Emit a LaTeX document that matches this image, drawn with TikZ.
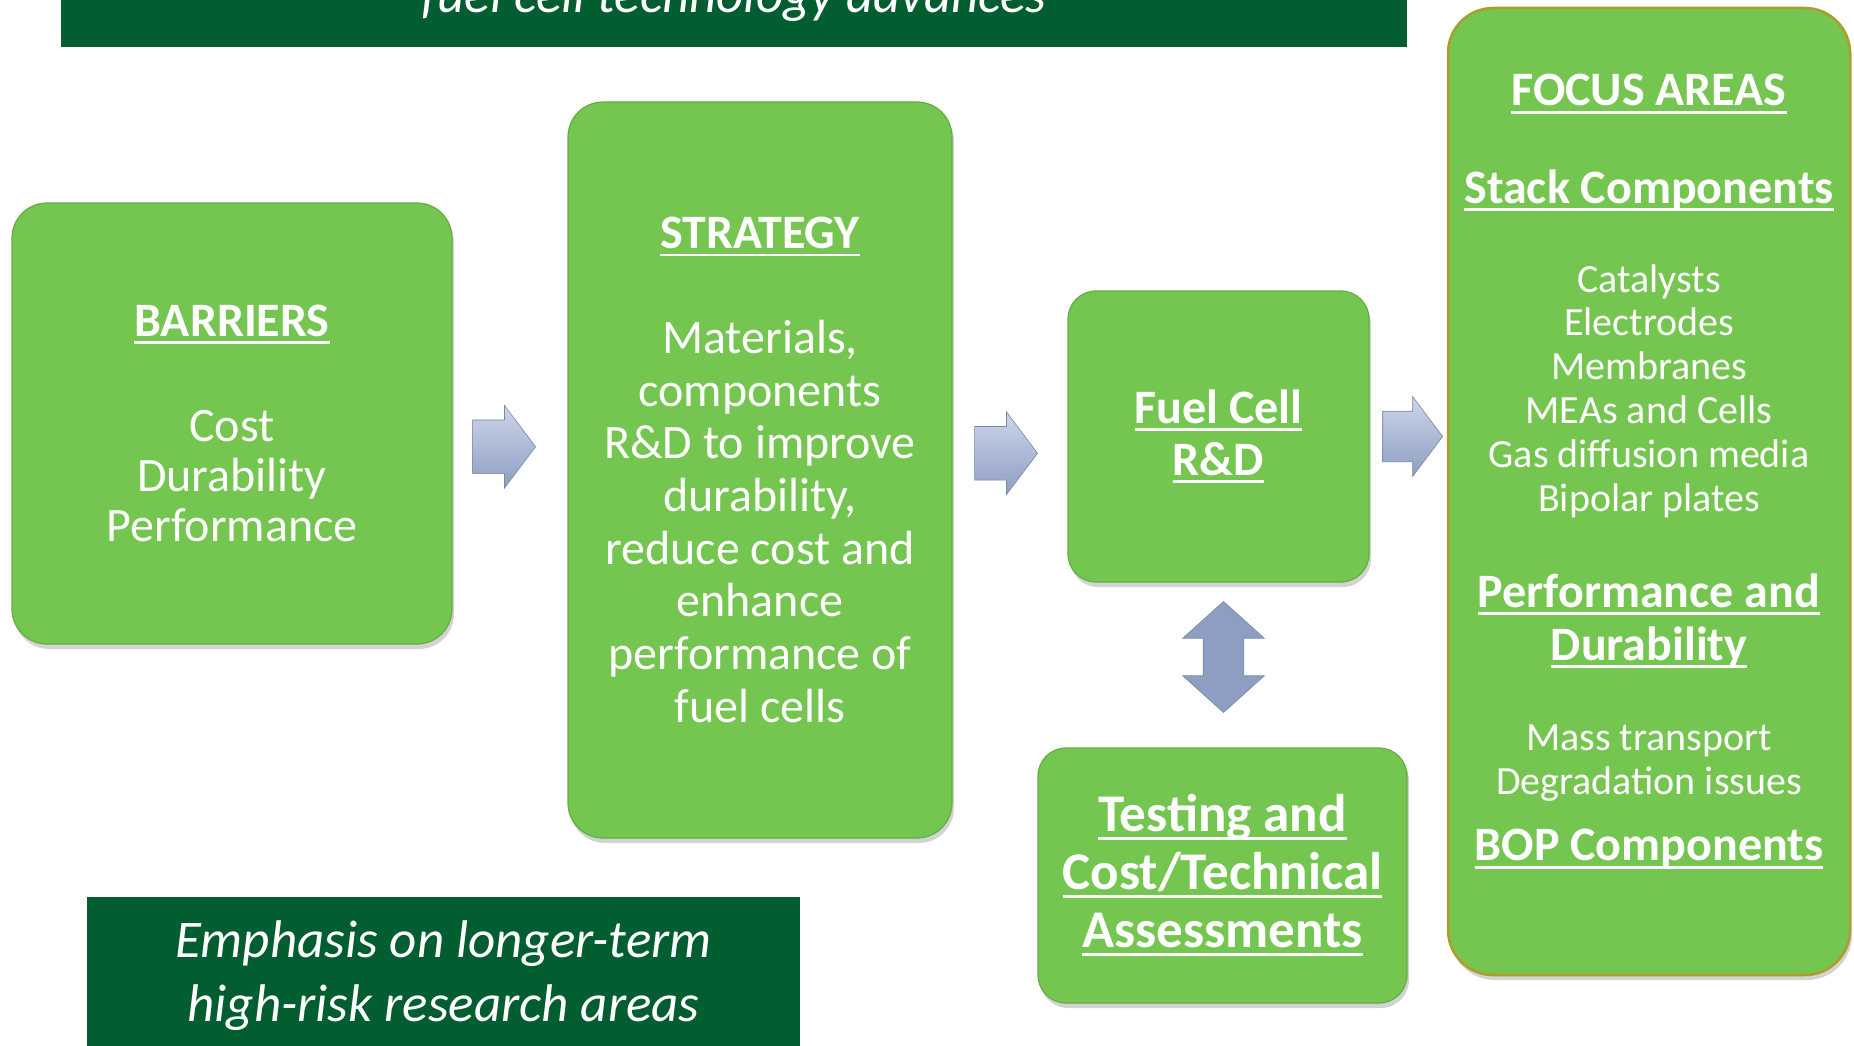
\documentclass[tikz,border=0pt]{standalone}
\usepackage{fontspec}
\setmainfont{Carlito}
\usetikzlibrary{shapes.arrows,shadows,calc}

\definecolor{bannergreen}{HTML}{025E30}
\definecolor{boxgreen}{HTML}{74C650}
\definecolor{boxedge}{HTML}{62AE40}
\definecolor{focusedge}{HTML}{AE9C2C}
\definecolor{arrowtop}{HTML}{CCD6EA}
\definecolor{arrowmid}{HTML}{B2C0DE}
\definecolor{arrowbot}{HTML}{8E9EC2}

% underline at a fixed depth, crossing the descenders
\newcommand\ulbox[1]{\setbox0=\hbox{#1}\rlap{\rule[-0.16em]{\wd0}{0.06em}}\box0}

\begin{document}
\begin{tikzpicture}[x=1pt,y=-1pt,
  panel/.style={rounded corners=#1, fill=boxgreen, draw=boxedge, line width=1.2pt,
    text=white, align=center, inner sep=0pt,
    drop shadow={shadow xshift=2pt, shadow yshift=-5pt, opacity=0.35}},
  panel/.default=35pt,
  banner/.style={fill=bannergreen, text=white, align=center, inner sep=0pt},
  heading/.style={text=white, align=center, inner sep=0pt,
    font=\fontsize{48}{53}\selectfont\bfseries},
  listtext/.style={text=white, align=center, inner sep=0pt,
    font=\fontsize{40}{43.8}\selectfont},
  flowarrow/.style={single arrow, inner xsep=0pt, inner ysep=26.5pt,
    minimum height=63pt, single arrow head extend=14.5pt, single arrow tip angle=106,
    top color=arrowtop, middle color=arrowmid, bottom color=arrowbot,
    draw=arrowbot!85!black, line width=0.6pt},
  twoway/.style={double arrow, rotate=90, inner xsep=0pt, inner ysep=20pt,
    minimum height=111pt, double arrow head extend=20.5pt, double arrow tip angle=96,
    top color=arrowbot, middle color=arrowtop, bottom color=arrowbot,
    draw=arrowbot!85!black, line width=0.6pt}]
  \useasboundingbox (0,0) rectangle (1854,1046);

  % banners
  \node[banner, anchor=base, text depth=26pt, inner ysep=8pt, minimum width=1346pt,
    font=\fontsize{53}{64}\selectfont\itshape] (topbanner) at (734,13)
    {fuel cell technology advances};
  \node[banner, minimum width=713pt, minimum height=157pt,
    font=\fontsize{53}{64}\selectfont\itshape] (emphasis) at (443.5,975.5)
    {Emphasis on longer-term\\high-risk research areas};

  % boxes
  \node[panel, minimum width=440pt, minimum height=441pt,
    font=\fontsize{48}{50}\selectfont] (barriers) at (232,423.5)
    {\ulbox{\textbf{BARRIERS}}\\[55pt]Cost\\Durability\\Performance};
  \node[panel, minimum width=384pt, minimum height=736pt,
    font=\fontsize{48}{52.7}\selectfont] (strategy) at (760,470)
    {\ulbox{\textbf{STRATEGY}}\\[52pt]Materials,\\components\\R\&D to improve\\durability,\\reduce cost and\\enhance\\performance of\\fuel cells};
  \node[panel=28pt, minimum width=301pt, minimum height=291pt,
    font=\fontsize{48}{52}\selectfont\bfseries] (fuel) at (1218.5,436.5)
    {\ulbox{Fuel Cell}\\\ulbox{R\&D}};
  \node[panel=28pt, minimum width=369pt, minimum height=255pt,
    font=\fontsize{53}{58}\selectfont\bfseries] (testing) at (1222.5,875.5)
    {\ulbox{Testing and}\\\ulbox{Cost/Technical}\\\ulbox{Assessments}};
  \node[panel=45pt, draw=focusedge, line width=2.5pt, minimum width=402pt,
    minimum height=967pt] (focus) at (1649,491.5) {};

  % focus areas list
  \node[heading] (focustitle) at (1649,94) {\ulbox{FOCUS AREAS}};
  \node[heading] (stackhead) at (1649,190) {\ulbox{Stack Components}};
  \node[listtext] (stacklist) at (1649,391)
    {Catalysts\\Electrodes\\Membranes\\MEAs and Cells\\Gas diffusion media\\Bipolar plates};
  \node[heading] (perfhead) at (1649,621) {\ulbox{Performance and}\\\ulbox{Durability}};
  \node[listtext] (perflist) at (1649,763) {Mass transport\\Degradation issues};
  \node[heading] (bophead) at (1649,849) {\ulbox{BOP Components}};

  % arrows between the boxes
  \node[flowarrow] (a1) at ($(barriers.east)!0.5!(strategy.west)+(-16,0)$) {};
  \node[flowarrow] (a2) at ($(strategy.east)!0.5!(fuel.west)+(-14,0)$) {};
  \node[flowarrow, minimum height=60pt, inner ysep=25pt] (a3)
    at ($(fuel.east)!0.5!(focus.west |- fuel.east)+(-5,0)$) {};
  \node[twoway] (a4) at ($(fuel.south)!0.5!(testing.north)+(3,-8)$) {};
\end{tikzpicture}
\end{document}
